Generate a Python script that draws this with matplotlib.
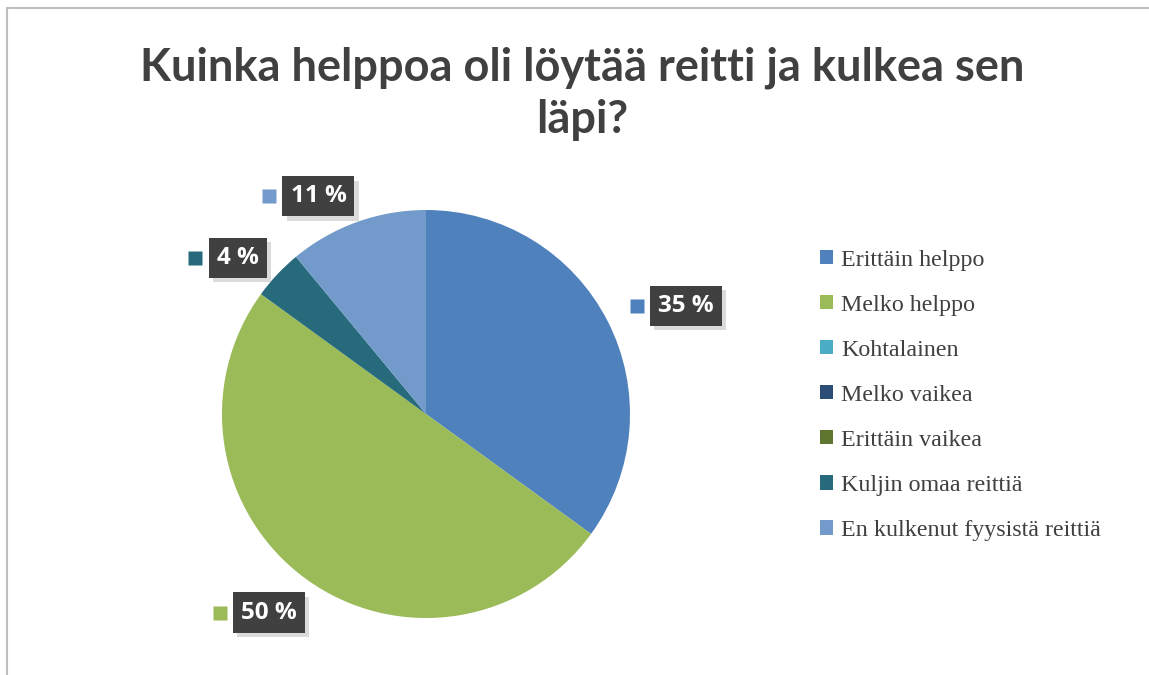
import matplotlib.pyplot as plt
import matplotlib.patheffects as pe
import numpy as np

# data
categories = ["Erittäin helppo", "Melko helppo", "Kohtalainen", "Melko vaikea",
              "Erittäin vaikea", "Kuljin omaa reittiä", "En kulkenut fyysistä reittiä"]
values = [35, 50, 0, 0, 0, 4, 11]
colors = ["#4F81BD", "#9BBB59", "#4BACC6", "#2C4D75", "#5F7530", "#276A7C", "#729ACA"]

W, H = 1149, 675
fig = plt.figure(figsize=(W / 100, H / 100), dpi=100)
fig.patch.set_facecolor("white")

# chart border (only top and left visible)
fig.add_artist(plt.Line2D([7 / W, 1], [1 - 8 / H, 1 - 8 / H], color="#bfbfbf", lw=1.5))
fig.add_artist(plt.Line2D([7 / W, 7 / W], [0, 1 - 8 / H], color="#bfbfbf", lw=1.5))

fig.text(582 / W, 1 - 94 / H, "Kuinka helppoa oli löytää reitti ja kulkea sen\nläpi?",
         ha="center", va="center", fontsize=32.5, fontweight="bold", family="Lato",
         color="#404040", linespacing=1.28)

# pie axes: center (426, 414) px, radius 204 px
cx, cy, r = 426, 414, 204
lim = 1.6
side = 2 * lim * r
ax = fig.add_axes([(cx - side / 2) / W, (H - cy - side / 2) / H, side / W, side / H])
wedges, _ = ax.pie(values, colors=colors, startangle=90, counterclock=False,
                   wedgeprops=dict(linewidth=0))
ax.set_xlim(-lim, lim)
ax.set_ylim(-lim, lim)
ax.axis("off")

# data labels
label_r = {0: 1.38, 1: 1.24, 5: 1.20, 6: 1.19}
label_shift = {0: -4.5, 1: -2.3, 5: 3.5, 6: 6.5}
for i, w in enumerate(wedges):
    if values[i] == 0:
        continue
    ang = np.deg2rad((w.theta1 + w.theta2) / 2 + label_shift[i])
    x = label_r[i] * np.cos(ang)
    y = label_r[i] * np.sin(ang)
    t = ax.text(x, y, f"{values[i]} %", ha="center", va="center", fontsize=17.5,
                fontweight="bold", family="Open Sans", color="white",
                bbox=dict(boxstyle="square,pad=0.33", fc="#404040", ec="none"))
    t.get_bbox_patch().set_path_effects([
        pe.SimplePatchShadow(offset=(3, -3), shadow_rgbFace="#999999", alpha=0.35),
        pe.Normal()])
    ax.plot(x - 0.18 - 0.03 * len(str(values[i])), y, marker="s", ms=9.5,
            color=colors[i], mec="none")

# legend
handles = [plt.Rectangle((0, 0), 1, 1, fc=c, ec="none") for c in colors]
fig.legend(handles, categories, loc="upper left", bbox_to_anchor=(798 / W, 1 - 228 / H),
           frameon=False, prop=dict(family="Liberation Serif", size=17.3),
           labelcolor="#404040", handlelength=0.55, handleheight=0.55,
           handletextpad=0.35, labelspacing=1.0)

fig.savefig("out.png", dpi=100)
